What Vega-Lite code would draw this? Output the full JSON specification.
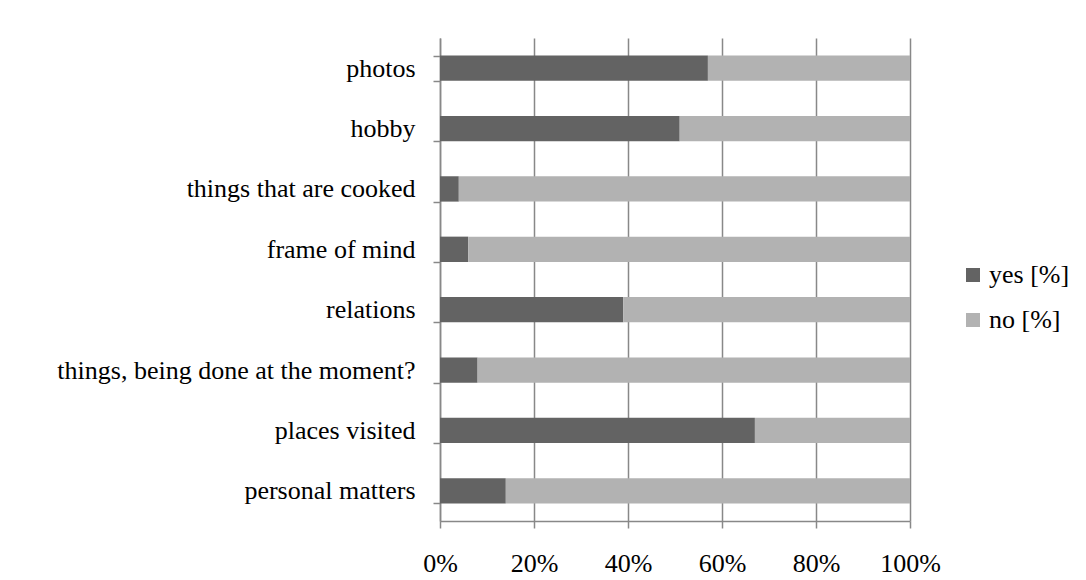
{
  "$schema": "https://vega.github.io/schema/vega-lite/v6.json",
  "width": 470,
  "height": 483,
  "autosize": {"type": "none"},
  "padding": {"left": 440, "top": 38, "right": 176, "bottom": 59},
  "background": "white",
  "config": {
    "view": {"stroke": null},
    "font": "Liberation Serif"
  },
  "data": {
    "values": [
      {"item": "photos", "answer": "yes [%]", "value": 57},
      {"item": "photos", "answer": "no [%]", "value": 43},
      {"item": "hobby", "answer": "yes [%]", "value": 51},
      {"item": "hobby", "answer": "no [%]", "value": 49},
      {"item": "things that are cooked", "answer": "yes [%]", "value": 4},
      {"item": "things that are cooked", "answer": "no [%]", "value": 96},
      {"item": "frame of mind", "answer": "yes [%]", "value": 6},
      {"item": "frame of mind", "answer": "no [%]", "value": 94},
      {"item": "relations", "answer": "yes [%]", "value": 39},
      {"item": "relations", "answer": "no [%]", "value": 61},
      {"item": "things, being done at the moment?", "answer": "yes [%]", "value": 8},
      {"item": "things, being done at the moment?", "answer": "no [%]", "value": 92},
      {"item": "places visited", "answer": "yes [%]", "value": 67},
      {"item": "places visited", "answer": "no [%]", "value": 33},
      {"item": "personal matters", "answer": "yes [%]", "value": 14},
      {"item": "personal matters", "answer": "no [%]", "value": 86}
    ]
  },
  "mark": {"type": "bar"},
  "encoding": {
    "y": {
      "field": "item",
      "type": "nominal",
      "sort": null,
      "scale": {"paddingInner": 0.58, "paddingOuter": 0.29},
      "axis": {
        "title": null,
        "domainColor": "#888888",
        "domainWidth": 1.5,
        "tickColor": "#888888",
        "tickWidth": 1.5,
        "tickSize": 7,
        "tickBand": "extent",
        "grid": false,
        "labelFont": "Liberation Serif",
        "labelFontSize": 26,
        "labelColor": "#000000",
        "labelPadding": 18,
        "labelLimit": 500
      }
    },
    "x": {
      "field": "value",
      "type": "quantitative",
      "stack": "normalize",
      "scale": {"domain": [0, 1]},
      "axis": {
        "title": null,
        "format": ".0%",
        "values": [0, 0.2, 0.4, 0.6, 0.8, 1],
        "grid": true,
        "gridColor": "#888888",
        "gridWidth": 1.5,
        "domainColor": "#888888",
        "domainWidth": 1.5,
        "tickColor": "#888888",
        "tickWidth": 1.5,
        "tickSize": 7,
        "labelFont": "Liberation Serif",
        "labelFontSize": 26,
        "labelColor": "#000000",
        "labelPadding": 22,
        "labelFlush": false
      }
    },
    "color": {
      "field": "answer",
      "type": "nominal",
      "scale": {"domain": ["yes [%]", "no [%]"], "range": ["#636363", "#b2b2b2"]},
      "legend": {
        "title": null,
        "orient": "none",
        "legendX": 520,
        "legendY": 224,
        "padding": 0,
        "symbolType": "square",
        "symbolSize": 196,
        "symbolStrokeWidth": 0,
        "labelFont": "Liberation Serif",
        "labelFontSize": 26,
        "labelColor": "#000000",
        "labelOffset": 3,
        "rowPadding": 19
      }
    },
    "order": {"field": "answer", "sort": "descending"}
  }
}
